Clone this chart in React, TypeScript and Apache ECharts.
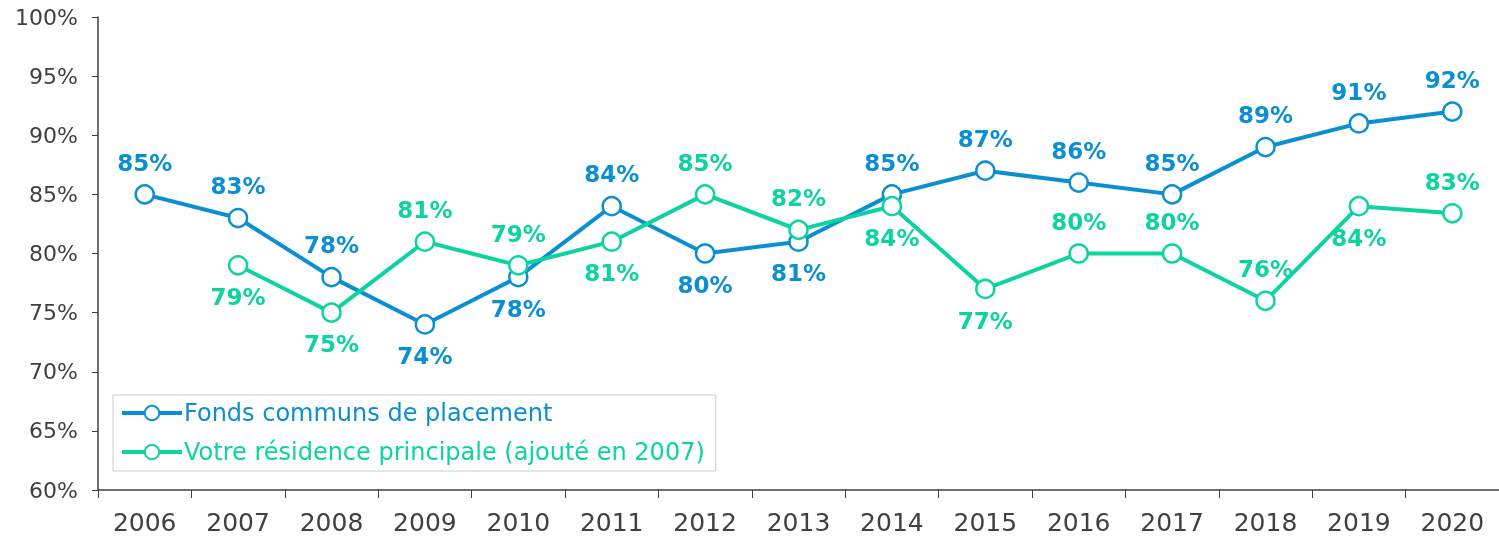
import React, { useEffect, useRef } from "react";
import * as echarts from "echarts";

const years = ["2006","2007","2008","2009","2010","2011","2012","2013","2014","2015","2016","2017","2018","2019","2020"];
const fonds = [85, 83, 78, 74, 78, 84, 80, 81, 85, 87, 86, 85, 89, 91, 92];
const fondsLabelPos = ["top","top","top","bottom","bottom","top","bottom","bottom","top","top","top","top","top","top","top"];
const residence: (number | null)[] = [null, 79, 75, 81, 79, 81, 85, 82, 84, 77, 80, 80, 76, 84, 83.4];
const residenceLabelPos = ["top","bottom","bottom","top","top","bottom","top","top","bottom","bottom","top","top","top","bottom","top"];

const BLUE = "#0B8FD3";
const GREEN = "#0DD3A0";
const FONT = "DejaVu Sans";

export default function App() {
  const ref = useRef<HTMLDivElement>(null);
  useEffect(() => {
    const chart = echarts.init(ref.current!, null, { renderer: "svg" });
    const mk = (vals: (number | null)[], pos: string[]) =>
      vals.map((v, i) => (v == null ? null : { value: v, label: { position: pos[i] } }));
    const series = (name: string, color: string, vals: (number | null)[], pos: string[]) => ({
      name,
      type: "line",
      data: mk(vals, pos),
      symbol: "circle",
      symbolSize: 18,
      itemStyle: { color: "#fff", borderColor: color, borderWidth: 2.5 },
      lineStyle: { color, width: 4 },
      label: {
        show: true,
        distance: 10,
        color,
        fontFamily: FONT,
        fontWeight: "bold",
        fontSize: 23,
        formatter: (p: any) => Math.round(p.value) + "%",
      },
    });
    chart.setOption({
      animation: false,
      grid: { left: 98, top: 17, right: 0, bottom: 51 },
      legend: {
        orient: "vertical",
        left: 113,
        top: 395,
        padding: [4, 11, 5, 7],
        itemGap: 11,
        itemWidth: 60,
        itemHeight: 18,
        borderColor: "#cccccc",
        borderWidth: 1,
        lineStyle: { width: 4 },
        textStyle: { fontFamily: FONT, fontSize: 24, lineHeight: 28, padding: [0, 0, 0, -3] },
        data: [
          { name: "Fonds communs de placement", textStyle: { color: BLUE } },
          { name: "Votre résidence principale (ajouté en 2007)", textStyle: { color: GREEN } },
        ],
      },
      xAxis: {
        type: "category",
        data: years,
        boundaryGap: true,
        axisLine: { lineStyle: { color: "#404040", width: 1.5 } },
        axisTick: { show: true, length: 8, lineStyle: { color: "#404040" } },
        axisLabel: { color: "#404040", fontFamily: FONT, fontSize: 25, margin: 20 },
      },
      yAxis: {
        type: "value",
        min: 60,
        max: 100,
        interval: 5,
        splitLine: { show: false },
        axisLine: { show: true, lineStyle: { color: "#404040", width: 1.5 } },
        axisTick: { show: true, length: 6, lineStyle: { color: "#404040" } },
        axisLabel: { color: "#404040", fontFamily: FONT, fontSize: 22, margin: 20, formatter: "{value}%" },
      },
      series: [
        series("Fonds communs de placement", BLUE, fonds, fondsLabelPos),
        series("Votre résidence principale (ajouté en 2007)", GREEN, residence, residenceLabelPos),
      ],
    });
    return () => chart.dispose();
  }, []);
  return <div ref={ref} style={{ position: "fixed", left: 0, top: 0, width: 1499, height: 541 }} />;
}
